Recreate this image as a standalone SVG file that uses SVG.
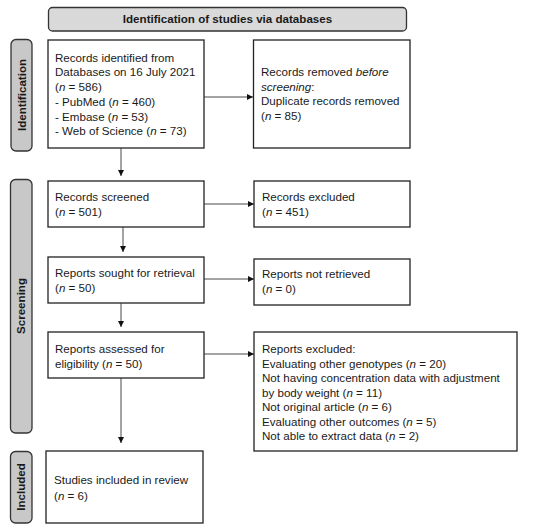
<svg xmlns="http://www.w3.org/2000/svg" width="550" height="531" viewBox="0 0 550 531">
<style>
text{font-family:"Liberation Sans",Arial,sans-serif;font-size:11.6px;fill:#1a1a1a}
.b{font-weight:bold}
.box{fill:#fff;stroke:#222;stroke-width:1.3}
.hdr{fill:#d9d9d9;stroke:#333;stroke-width:1.3}
.lab{fill:#c8c8c8;stroke:#333;stroke-width:1.3}
.con{stroke:#333;stroke-width:0.9;fill:none;marker-end:url(#ah)}
</style>
<defs>
<marker id="ah" viewBox="0 0 10 10" refX="10" refY="5" markerWidth="6" markerHeight="6" markerUnits="userSpaceOnUse" orient="auto">
<path d="M0,0 L10,5 L0,10 z" fill="#111"/>
</marker>
</defs>
<rect width="550" height="531" fill="#fff"/>
<g id="header">
<rect class="hdr" x="48.5" y="7.5" width="358" height="23.5" rx="4"/>
<text class="b" x="227.5" y="23" text-anchor="middle">Identification of studies via databases</text>
</g>
<g id="label-identification">
<rect class="lab" x="11" y="39.5" width="21" height="111.5" rx="5"/>
<text class="b" transform="translate(25.5,95) rotate(-90)" text-anchor="middle">Identification</text>
</g>
<g id="label-screening">
<rect class="lab" x="10.5" y="179.5" width="21.5" height="253.5" rx="5"/>
<text class="b" transform="translate(25,306) rotate(-90)" text-anchor="middle">Screening</text>
</g>
<g id="label-included">
<rect class="lab" x="10.5" y="451.5" width="21.5" height="71.5" rx="5"/>
<text class="b" transform="translate(25,487) rotate(-90)" text-anchor="middle">Included</text>
</g>
<g id="records-identified">
<rect class="box" x="48" y="40" width="156" height="108"/>
<text x="55" y="61.5">Records identified from</text>
<text x="55" y="76.3">Databases on 16 July 2021</text>
<text x="55" y="91">(<tspan font-style="italic">n</tspan> = 586)</text>
<text x="55" y="105.8">- PubMed (<tspan font-style="italic">n</tspan> = 460)</text>
<text x="55" y="120.5">- Embase (<tspan font-style="italic">n</tspan> = 53)</text>
<text x="55" y="135.3">- Web of Science (<tspan font-style="italic">n</tspan> = 73)</text>
</g>
<g id="records-removed">
<rect class="box" x="253.5" y="40" width="156.5" height="108"/>
<text x="261" y="75.7">Records removed <tspan font-style="italic">before</tspan></text>
<text x="261" y="90.5"><tspan font-style="italic">screening</tspan>:</text>
<text x="261" y="105.3">Duplicate records removed</text>
<text x="261" y="120">(<tspan font-style="italic">n</tspan> = 85)</text>
</g>
<g id="records-screened">
<rect class="box" x="48" y="181" width="156" height="46"/>
<text x="55" y="200.5">Records screened</text>
<text x="55" y="215.5">(<tspan font-style="italic">n</tspan> = 501)</text>
</g>
<g id="records-excluded">
<rect class="box" x="254" y="181" width="156" height="46"/>
<text x="262" y="200.5">Records excluded</text>
<text x="262" y="215.5">(<tspan font-style="italic">n</tspan> = 451)</text>
</g>
<g id="reports-sought">
<rect class="box" x="48" y="257" width="156" height="46"/>
<text x="55" y="277.3">Reports sought for retrieval</text>
<text x="55" y="292.3">(<tspan font-style="italic">n</tspan> = 50)</text>
</g>
<g id="reports-not-retrieved">
<rect class="box" x="254" y="259" width="156" height="46"/>
<text x="262" y="278.3">Reports not retrieved</text>
<text x="262" y="293">(<tspan font-style="italic">n</tspan> = 0)</text>
</g>
<g id="reports-assessed">
<rect class="box" x="48" y="332" width="156" height="46"/>
<text x="55" y="352.5">Reports assessed for</text>
<text x="55" y="368">eligibility (<tspan font-style="italic">n</tspan> = 50)</text>
</g>
<g id="reports-excluded">
<rect class="box" x="254" y="332" width="263" height="119"/>
<text x="262" y="352.5">Reports excluded:</text>
<text x="262" y="367.5">Evaluating other genotypes (<tspan font-style="italic">n</tspan> = 20)</text>
<text x="262" y="381.7">Not having concentration data with adjustment</text>
<text x="262" y="396.5">by body weight (<tspan font-style="italic">n</tspan> = 11)</text>
<text x="262" y="411">Not original article (<tspan font-style="italic">n</tspan> = 6)</text>
<text x="262" y="425.7">Evaluating other outcomes (<tspan font-style="italic">n</tspan> = 5)</text>
<text x="262" y="440">Not able to extract data (<tspan font-style="italic">n</tspan> = 2)</text>
</g>
<g id="studies-included">
<rect class="box" x="46" y="451" width="157" height="72"/>
<text x="54" y="484">Studies included in review</text>
<text x="54" y="499.5">(<tspan font-style="italic">n</tspan> = 6)</text>
</g>
<g id="connectors">
<line class="con" x1="204" y1="97" x2="253" y2="97"/>
<line class="con" x1="121" y1="148" x2="121" y2="176"/>
<line class="con" x1="204" y1="204" x2="254" y2="204"/>
<line class="con" x1="123" y1="227" x2="123" y2="252"/>
<line class="con" x1="204" y1="279" x2="254" y2="279"/>
<line class="con" x1="121" y1="303" x2="121" y2="327"/>
<line class="con" x1="204" y1="354" x2="254" y2="354"/>
<line class="con" x1="121" y1="378" x2="121" y2="443"/>
</g>
</svg>
